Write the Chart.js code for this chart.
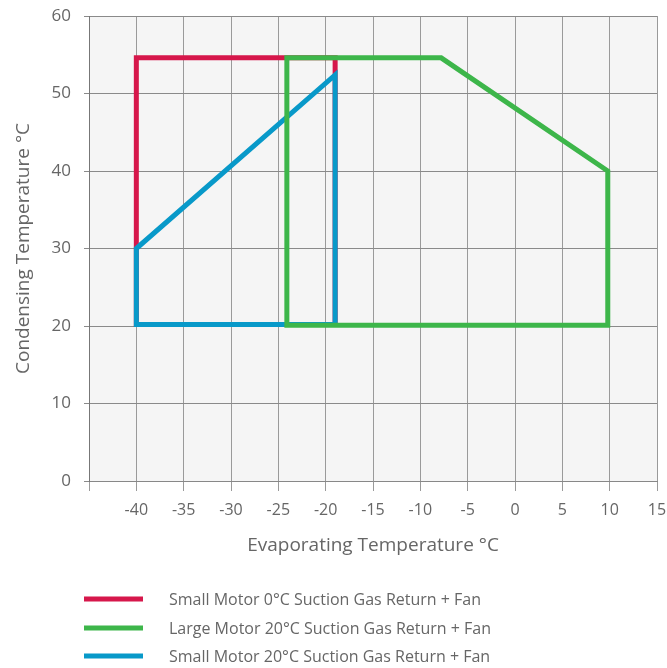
<!DOCTYPE html>
<html>
<head>
<meta charset="utf-8">
<script src="https://cdn.jsdelivr.net/npm/chart.js@4/dist/chart.umd.min.js"></script>
<style>
  html, body { margin: 0; padding: 0; background: #fff; }
  #wrap { width: 667px; height: 668px; }
</style>
</head>
<body>
<div id="wrap"><canvas id="envelope"></canvas></div>
<script>
// operating envelopes
const seriesNames = [
    'Small Motor 0°C Suction Gas Return + Fan',
    'Large Motor 20°C Suction Gas Return + Fan',
    'Small Motor 20°C Suction Gas Return + Fan'
];
const seriesColors = ['#d6174b', '#3db64a', '#0899c9'];

const redEvap = [-40, -40, -19, -19, -40];
const redCond = [20.2, 54.6, 54.6, 20.2, 20.2];

const greenEvap = [-24.1, -24.1, -7.8, 9.8, 9.8, -24.1];
const greenCond = [20.1, 54.6, 54.6, 40, 20.1, 20.1];

const blueEvap = [-40, -40, -19, -19, -40];
const blueCond = [20.2, 30, 52.4, 20.2, 20.2];

const xTicks = [-45, -40, -35, -30, -25, -20, -15, -10, -5, 0, 5, 10, 15];
const yTicks = [0, 10, 20, 30, 40, 50, 60];

const textColor = '#666';
const fontFamily = '"Open Sans", "Noto Sans", sans-serif';

function toPoints(xs, ys) {
    return xs.map((x, i) => ({ x: x, y: ys[i] }));
}

function lineSet(idx, xs, ys) {
    return {
        label: seriesNames[idx],
        data: toPoints(xs, ys),
        showLine: true,
        borderColor: seriesColors[idx],
        backgroundColor: seriesColors[idx],
        borderWidth: 5,
        pointRadius: 0,
        borderJoinStyle: 'miter',
        borderCapStyle: 'square',
        fill: false
    };
}

// chart.js paints the first dataset last, so green ends up on top and red at the back
const datasets = [
    lineSet(1, greenEvap, greenCond),
    lineSet(2, blueEvap, blueCond),
    lineSet(0, redEvap, redCond)
];

const plotBg = {
    id: 'plotBg',
    beforeDraw(chart) {
        const a = chart.chartArea;
        const ctx = chart.ctx;
        ctx.save();
        ctx.fillStyle = '#f5f5f5';
        ctx.fillRect(a.left, a.top, a.right - a.left, a.bottom - a.top);
        ctx.restore();
    }
};

const stackedLegend = {
    id: 'stackedLegend',
    afterDraw(chart) {
        const ctx = chart.ctx;
        const rows = [599, 628, 656];
        ctx.save();
        ctx.font = '16px ' + fontFamily;
        ctx.textBaseline = 'middle';
        seriesNames.forEach((name, i) => {
            ctx.fillStyle = seriesColors[i];
            ctx.fillRect(84, rows[i] - 2.5, 59, 5);
            ctx.fillStyle = textColor;
            ctx.fillText(name, 169, rows[i] + 1);
        });
        ctx.restore();
    }
};

new Chart(document.getElementById('envelope'), {
    type: 'scatter',
    data: { datasets: datasets },
    plugins: [plotBg, stackedLegend],
    options: {
        responsive: true,
        maintainAspectRatio: false,
        animation: false,
        layout: { padding: { top: 16, right: 10, bottom: 107, left: 0 } },
        plugins: {
            legend: { display: false },
            tooltip: { enabled: false }
        },
        scales: {
            x: {
                type: 'linear',
                min: -45,
                max: 15,
                afterBuildTicks(s) { s.ticks = xTicks.map(v => ({ value: v })); },
                afterFit(s) { s.height = 80; s.paddingLeft = 0; s.paddingRight = 0; },
                ticks: {
                    color: textColor,
                    font: { size: 16, family: fontFamily },
                    padding: 10,
                    maxRotation: 0,
                    callback: (v) => v === -45 ? '' : v
                },
                grid: { color: '#9a9a9a', lineWidth: 1, tickLength: 10 },
                border: { color: '#888' },
                title: {
                    display: true,
                    text: 'Evaporating Temperature °C',
                    color: textColor,
                    font: { size: 19, family: fontFamily },
                    padding: { top: 4, bottom: 4 }
                }
            },
            y: {
                min: 0,
                max: 60,
                afterBuildTicks(s) { s.ticks = yTicks.map(v => ({ value: v })); },
                afterFit(s) { s.width = 89; s.paddingTop = 0; s.paddingBottom = 0; },
                ticks: {
                    color: textColor,
                    font: { size: 17, family: fontFamily },
                    padding: 13
                },
                grid: { color: '#8a8a8a', lineWidth: 1, tickLength: 5 },
                border: { color: '#777' },
                title: {
                    display: true,
                    text: 'Condensing Temperature °C',
                    color: textColor,
                    font: { size: 19, family: fontFamily },
                    padding: { top: 12, bottom: 0 }
                }
            }
        }
    }
});
</script>
</body>
</html>
